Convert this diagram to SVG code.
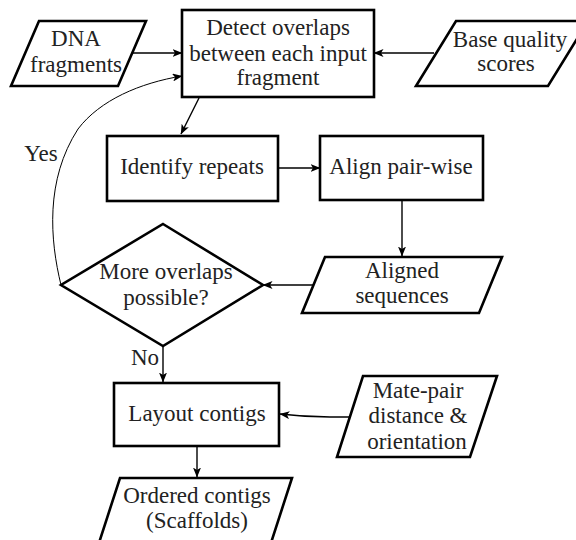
<svg xmlns="http://www.w3.org/2000/svg" width="576" height="540" viewBox="0 0 576 540">
<style>
.n{fill:#fff;stroke:#000;stroke-width:2.6;stroke-linejoin:miter}
text{font-family:"Liberation Serif","DejaVu Serif",serif;font-size:23px;fill:#222;text-anchor:middle}
.c{fill:none;stroke:#000;stroke-width:1.4}
.y{fill:none;stroke:#000;stroke-width:1}
</style>
<defs>
<marker id="a" viewBox="0 0 10 8" refX="9.5" refY="4" markerWidth="10" markerHeight="8" markerUnits="userSpaceOnUse" orient="auto">
<path d="M0,0 L10,4 L0,8 L2.5,4 z" fill="#000"/>
</marker>
</defs>
<rect width="576" height="540" fill="#fff"/>
<g id="connectors">
<path class="c" d="M132,53 L182,53" marker-end="url(#a)"/>
<path class="c" d="M434,53 L374,53" marker-end="url(#a)"/>
<path class="c" d="M199,98 L181,134" marker-end="url(#a)"/>
<path class="c" d="M278,168 L320,168" marker-end="url(#a)"/>
<path class="c" d="M402,200 L402,256" marker-end="url(#a)"/>
<path class="c" d="M314,285 L263,285" marker-end="url(#a)"/>
<path class="c" d="M163,346 L163,382" marker-end="url(#a)"/>
<path class="c" d="M350,417 L330,417 Q305,417 280,414" marker-end="url(#a)"/>
<path class="c" d="M197,446 L197,477" marker-end="url(#a)"/>
<path class="y" d="M61,285 C50,240 45,180 78,129 C100,100 140,83 182,76" marker-end="url(#a)"/>
<text x="41" y="161">Yes</text>
<text x="145" y="365">No</text>
</g>
<g id="dna">
<polygon class="n" points="39,21 146,21 118,86 11,86"/>
<text x="76" y="46">DNA</text>
<text x="76" y="72">fragments</text>
</g>
<g id="detect">
<rect class="n" x="182" y="10" width="192" height="87"/>
<text x="278" y="35">Detect overlaps</text>
<text x="278" y="61">between each input</text>
<text x="278" y="85">fragment</text>
</g>
<g id="base">
<polygon class="n" points="456,21 588,21 548,86 416,86"/>
<text x="510" y="47">Base quality</text>
<text x="506" y="71">scores</text>
</g>
<g id="identify">
<rect class="n" x="107" y="136" width="171" height="65"/>
<text x="192" y="174">Identify repeats</text>
</g>
<g id="align">
<rect class="n" x="320" y="136" width="163" height="64"/>
<text x="401" y="174">Align pair-wise</text>
</g>
<g id="aligned">
<polygon class="n" points="325,257 502,257 479,313 302,313"/>
<text x="402" y="278">Aligned</text>
<text x="402" y="303">sequences</text>
</g>
<g id="decision">
<polygon class="n" points="163,224 263,285 163,346 61,285"/>
<text x="166" y="279">More overlaps</text>
<text x="166" y="305">possible?</text>
</g>
<g id="layout">
<rect class="n" x="114" y="383" width="165" height="63"/>
<text x="197" y="421">Layout contigs</text>
</g>
<g id="matepair">
<polygon class="n" points="363,376 497,376 470,457 337,457"/>
<text x="418" y="398">Mate-pair</text>
<text x="418" y="423">distance &amp;</text>
<text x="417" y="449">orientation</text>
</g>
<g id="ordered">
<polygon class="n" points="120,478 292,478 270,546 98,546"/>
<text x="197" y="503">Ordered contigs</text>
<text x="197" y="528">(Scaffolds)</text>
</g>
</svg>
